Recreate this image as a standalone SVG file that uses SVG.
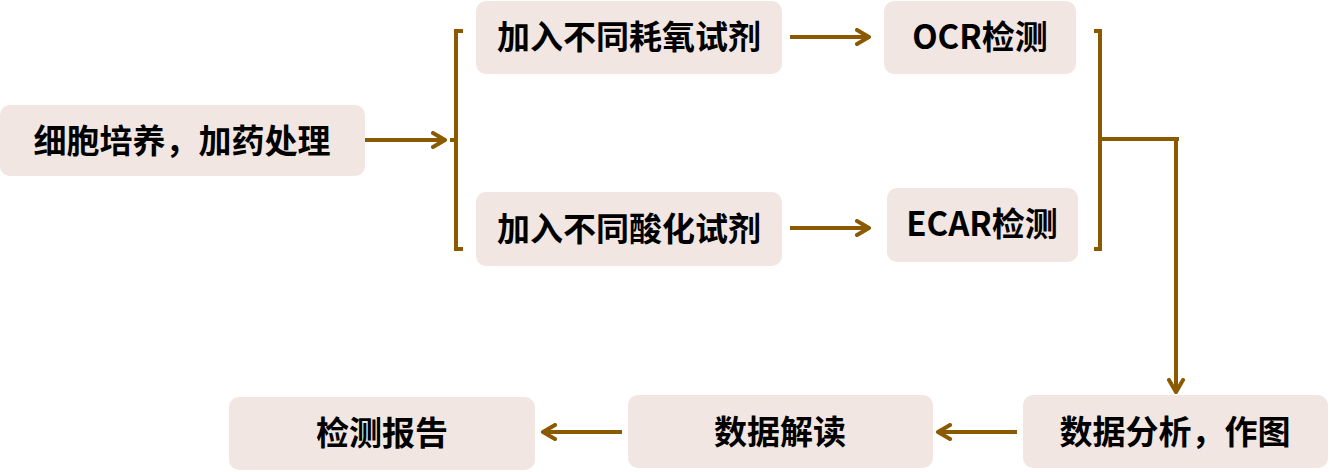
<svg xmlns="http://www.w3.org/2000/svg" width="1330" height="472" viewBox="0 0 1330 472">
<defs>
<style>
.box{fill:#F1E6E1;}
.t{font-family:"Noto Sans CJK SC","Noto Sans",sans-serif;font-weight:bold;font-size:33px;fill:#000;text-anchor:middle;dominant-baseline:central;}
.ln{stroke:#8B5A00;stroke-width:4;fill:none;}
</style>
<marker id="ah" markerWidth="16" markerHeight="18" viewBox="0 0 16 18" refX="14" refY="9" orient="auto" markerUnits="userSpaceOnUse">
<path d="M2,2 L14,9 L2,16" fill="none" stroke="#8B5A00" stroke-width="4" stroke-linecap="round" stroke-linejoin="round"/>
</marker>
</defs>
<rect width="1330" height="472" fill="#fff"/>
<g id="n1"><rect class="box" x="0" y="105" width="365" height="71" rx="10"/><text class="t" x="182" y="139">细胞培养，加药处理</text></g>
<g id="n2"><rect class="box" x="476" y="1" width="306" height="73" rx="10"/><text class="t" x="629" y="35">加入不同耗氧试剂</text></g>
<g id="n3"><rect class="box" x="476" y="192" width="306" height="74" rx="10"/><text class="t" x="629" y="227">加入不同酸化试剂</text></g>
<g id="n4"><rect class="box" x="884" y="1" width="192" height="73" rx="10"/><text class="t" x="980" y="35">OCR检测</text></g>
<g id="n5"><rect class="box" x="887" y="188" width="191" height="74" rx="10"/><text class="t" x="982" y="222">ECAR检测</text></g>
<g id="n6"><rect class="box" x="1023" y="395" width="305" height="73" rx="10"/><text class="t" x="1175" y="430">数据分析，作图</text></g>
<g id="n7"><rect class="box" x="628" y="395" width="305" height="73" rx="10"/><text class="t" x="780" y="430">数据解读</text></g>
<g id="n8"><rect class="box" x="229" y="397" width="306" height="73" rx="10"/><text class="t" x="382" y="431">检测报告</text></g>
<g id="connectors">
<path class="ln" d="M365,140 L445,140" marker-end="url(#ah)"/>
<path class="ln" d="M463,31 L456,31 L456,249 L463,249 M456,140 L450,140"/>
<path class="ln" d="M790,37 L869,37" marker-end="url(#ah)"/>
<path class="ln" d="M790,228 L869,228" marker-end="url(#ah)"/>
<path class="ln" d="M1094,31 L1100,31 L1100,249 L1094,249 M1100,139 L1179,139"/>
<path class="ln" d="M1176,139 L1176,392" marker-end="url(#ah)"/>
<path class="ln" d="M1017,432 L938,432" marker-end="url(#ah)"/>
<path class="ln" d="M622,432 L543,432" marker-end="url(#ah)"/>
</g>
</svg>
